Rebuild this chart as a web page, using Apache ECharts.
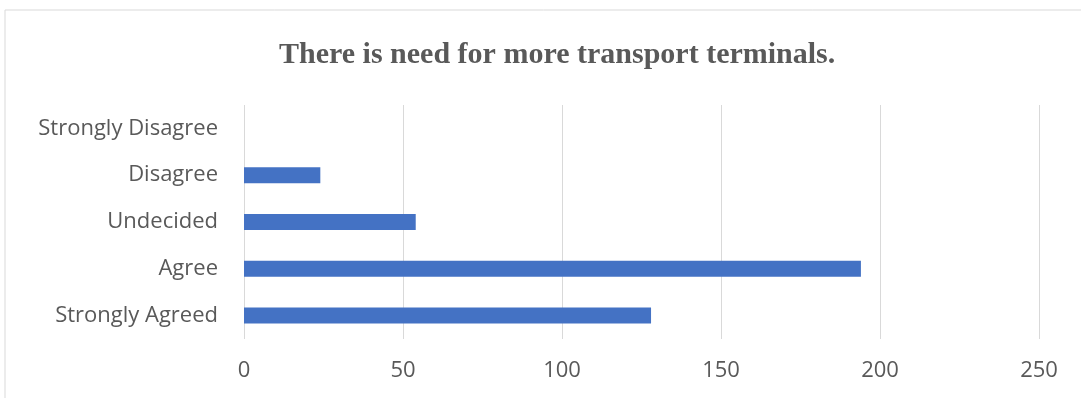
<!DOCTYPE html>
<html><head><meta charset="utf-8">
<script src="https://cdn.jsdelivr.net/npm/echarts@6/dist/echarts.min.js"></script>
<style>html,body{margin:0;padding:0;background:#fff}#c{width:1081px;height:398px}</style>
</head><body><div id="c"></div>
<script>
const categories = ['Strongly Agreed', 'Agree', 'Undecided', 'Disagree', 'Strongly Disagree'];
const values = [128, 194, 54, 24, 0];
const xTicks = [0, 50, 100, 150, 200, 250];
const titleText = 'There is need for more transport terminals.';

const chart = echarts.init(document.getElementById('c'));
chart.setOption({
  animation: false,
  backgroundColor: '#fff',
  graphic: [{type: 'rect', shape: {x: 5, y: 10, width: 1090, height: 400}, style: {fill: 'none', stroke: '#d9d9d9', lineWidth: 1}}],
  title: {text: titleText, left: 274, top: 35,
    textStyle: {fontFamily: 'Liberation Serif', fontWeight: 'bold', fontSize: 30, color: '#595959'}},
  grid: {left: 244, right: 42, top: 105, bottom: 59},
  xAxis: {type: 'value', min: xTicks[0], max: xTicks[xTicks.length - 1], interval: 50,
    axisLine: {show: false}, axisTick: {show: false},
    splitLine: {lineStyle: {color: '#d9d9d9', width: 1}},
    axisLabel: {color: '#595959', fontSize: 22, fontFamily: 'Open Sans', margin: 21}},
  yAxis: {type: 'category', data: categories,
    axisLine: {show: false}, axisTick: {show: false},
    axisLabel: {color: '#595959', fontSize: 22, fontFamily: 'Open Sans', margin: 26}},
  series: [{type: 'bar', data: values, barWidth: 16, itemStyle: {color: '#4472C4'}}]
});
</script></body></html>
